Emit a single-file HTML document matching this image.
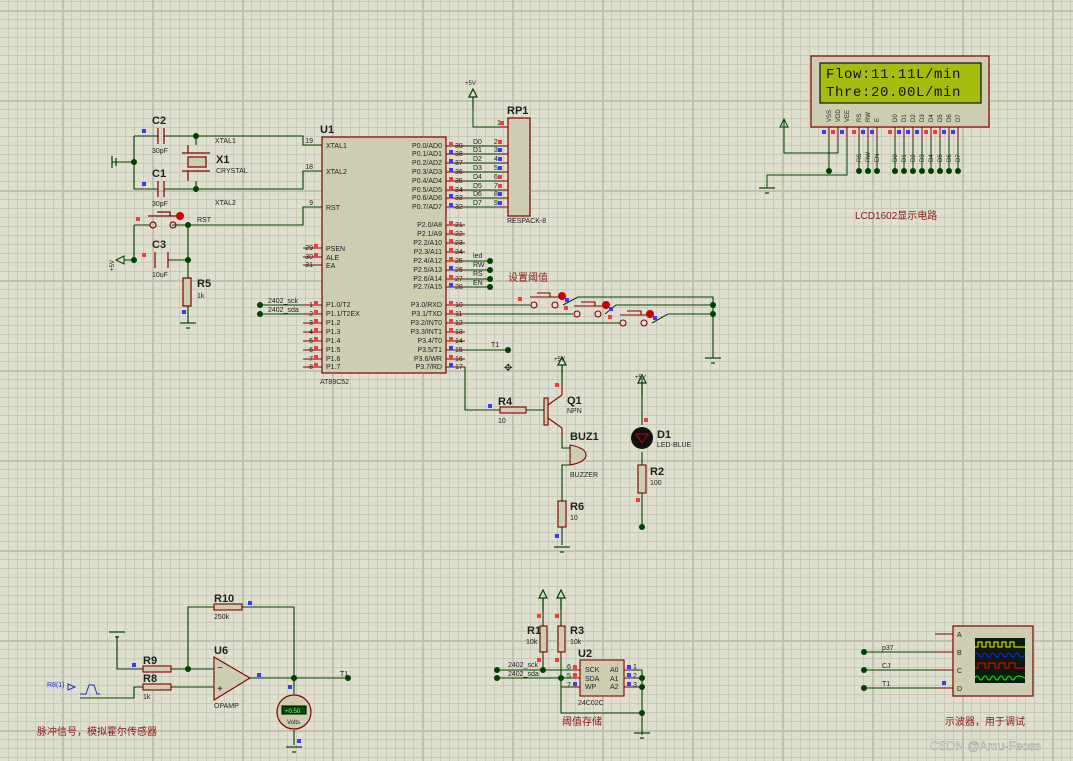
<!DOCTYPE html>
<html><head><meta charset="utf-8"><style>
html,body{margin:0;padding:0;}
body{width:1073px;height:761px;overflow:hidden;background-color:#dfdfd0;
background-image:
linear-gradient(#c2c2b2 2px,transparent 2px),
linear-gradient(90deg,#c2c2b2 2px,transparent 2px),
linear-gradient(#c9c9ba 1px,transparent 1px),
linear-gradient(90deg,#c9c9ba 1px,transparent 1px);
background-size:90px 90px,90px 90px,9px 9px,9px 9px;
background-position:0 10px,62px 0,0 1px,8px 0;}
svg{position:absolute;left:0;top:0;}
text{font-family:"Liberation Sans","Noto Sans CJK SC",sans-serif;fill:#222;}
.s{font-size:7px}
.r{font-size:11px;font-weight:bold}
.cn{font-size:10px;fill:#8b1a1a;font-family:"Liberation Sans","Noto Sans CJK SC",sans-serif}
.R{fill:#f03c3c}.B{fill:#3c3cf0}
</style></head><body>
<svg width="1073" height="761" viewBox="0 0 1073 761">
<defs>
<g id="nd"><circle r="3" fill="#004000"/></g>
<g id="gnd" stroke="#004000" stroke-width="1.2" fill="none"><line x1="-8" y1="0" x2="8" y2="0"/><line x1="-2" y1="5" x2="2" y2="5"/></g>
<g id="pwr" stroke="#004000" stroke-width="1.2" fill="none"><path d="M0,12 V0 M-4,0 L0,-8 L4,0 Z"/></g>
<rect id="r" width="4" height="4" class="R"/>
<rect id="b" width="4" height="4" class="B"/>
</defs>

<rect x="322" y="137" width="124" height="236" fill="#cdcdb2" stroke="#800000" stroke-width="1.2"/>
<g stroke="#800000" stroke-width="1">
<path d="M303,145H322M303,171H322M303,207H322M303,248H322M303,257H322M303,265H322"/>
<path d="M303,305H322M303,314H322M303,323H322M303,332H322M303,341H322M303,350H322M303,359H322M303,367H322"/>
<path d="M446,146H465M446,154H465M446,163H465M446,172H465M446,181H465M446,190H465M446,198H465M446,207H465"/>
<path d="M446,225H465M446,234H465M446,243H465M446,252H465M446,261H465M446,270H465M446,279H465M446,287H465"/>
<path d="M446,305H465M446,314H465M446,323H465M446,332H465M446,341H465M446,350H465M446,359H465M446,367H465"/>
</g>
<g>
<use href="#r" x="449" y="142"/><use href="#b" x="449" y="150"/><use href="#b" x="449" y="159"/><use href="#b" x="449" y="168"/><use href="#r" x="449" y="177"/><use href="#r" x="449" y="186"/><use href="#b" x="449" y="194"/><use href="#b" x="449" y="203"/>
<use href="#r" x="449" y="221"/><use href="#r" x="449" y="230"/><use href="#r" x="449" y="239"/><use href="#r" x="449" y="248"/><use href="#r" x="449" y="257"/><use href="#b" x="449" y="266"/><use href="#r" x="449" y="275"/><use href="#b" x="449" y="283"/>
<use href="#r" x="449" y="301"/><use href="#r" x="449" y="310"/><use href="#r" x="449" y="319"/><use href="#r" x="449" y="328"/><use href="#r" x="449" y="337"/><use href="#b" x="449" y="346"/><use href="#r" x="449" y="355"/><use href="#b" x="449" y="363"/>
<use href="#r" x="314" y="244"/><use href="#r" x="314" y="253"/>
<use href="#r" x="314" y="301"/><use href="#r" x="314" y="310"/><use href="#r" x="314" y="319"/><use href="#r" x="314" y="328"/><use href="#r" x="314" y="337"/><use href="#r" x="314" y="346"/><use href="#r" x="314" y="355"/><use href="#r" x="314" y="363"/>
<use href="#r" x="500" y="121"/><use href="#r" x="498" y="140"/><use href="#b" x="498" y="148"/><use href="#b" x="498" y="157"/><use href="#b" x="498" y="166"/><use href="#r" x="498" y="175"/><use href="#r" x="498" y="184"/><use href="#b" x="498" y="192"/><use href="#b" x="498" y="201"/>
<use href="#b" x="142" y="129"/><use href="#b" x="142" y="182"/><use href="#r" x="136" y="217"/><use href="#r" x="142" y="253"/><use href="#b" x="182" y="310"/>
</g>
<text x="320" y="133" class="r">U1</text>
<text x="320" y="384" class="s">AT89C52</text>
<g class="s">
<text x="326" y="148">XTAL1</text><text x="326" y="174">XTAL2</text><text x="326" y="210">RST</text>
<text x="326" y="251">PSEN</text><text x="326" y="260">ALE</text><text x="326" y="268">EA</text>
<text x="326" y="307">P1.0/T2</text><text x="326" y="316">P1.1/T2EX</text><text x="326" y="325">P1.2</text><text x="326" y="334">P1.3</text>
<text x="326" y="343">P1.4</text><text x="326" y="352">P1.5</text><text x="326" y="361">P1.6</text><text x="326" y="369">P1.7</text>
</g>
<g class="s" text-anchor="end">
<text x="442" y="148">P0.0/AD0</text><text x="442" y="156">P0.1/AD1</text><text x="442" y="165">P0.2/AD2</text><text x="442" y="174">P0.3/AD3</text>
<text x="442" y="183">P0.4/AD4</text><text x="442" y="192">P0.5/AD5</text><text x="442" y="200">P0.6/AD6</text><text x="442" y="209">P0.7/AD7</text>
<text x="442" y="227">P2.0/A8</text><text x="442" y="236">P2.1/A9</text><text x="442" y="245">P2.2/A10</text><text x="442" y="254">P2.3/A11</text>
<text x="442" y="263">P2.4/A12</text><text x="442" y="272">P2.5/A13</text><text x="442" y="281">P2.6/A14</text><text x="442" y="289">P2.7/A15</text>
<text x="442" y="307">P3.0/RXD</text><text x="442" y="316">P3.1/TXD</text><text x="442" y="325">P3.2/INT0</text><text x="442" y="334">P3.3/INT1</text>
<text x="442" y="343">P3.4/T0</text><text x="442" y="352">P3.5/T1</text><text x="442" y="361">P3.6/WR</text><text x="442" y="369">P3.7/RD</text>
<text x="313" y="143">19</text><text x="313" y="169">18</text><text x="313" y="205">9</text>
<text x="313" y="250">29</text><text x="313" y="259">30</text><text x="313" y="267">31</text>
<text x="313" y="307">1</text><text x="313" y="316">2</text><text x="313" y="325">3</text><text x="313" y="334">4</text><text x="313" y="343">5</text><text x="313" y="352">6</text><text x="313" y="361">7</text><text x="313" y="369">8</text>
</g>
<g class="s">
<text x="455" y="148">39</text><text x="455" y="156">38</text><text x="455" y="165">37</text><text x="455" y="174">36</text><text x="455" y="183">35</text><text x="455" y="192">34</text><text x="455" y="200">33</text><text x="455" y="209">32</text>
<text x="455" y="227">21</text><text x="455" y="236">22</text><text x="455" y="245">23</text><text x="455" y="254">24</text><text x="455" y="263">25</text><text x="455" y="272">26</text><text x="455" y="281">27</text><text x="455" y="289">28</text>
<text x="455" y="307">10</text><text x="455" y="316">11</text><text x="455" y="325">12</text><text x="455" y="334">13</text><text x="455" y="343">14</text><text x="455" y="352">15</text><text x="455" y="361">16</text><text x="455" y="369">17</text>
</g>

<rect x="508" y="118" width="22" height="98" fill="#cdcdb2" stroke="#800000" stroke-width="1.2"/>
<text x="507" y="114" class="r">RP1</text><text x="507" y="223" class="s">RESPACK-8</text>
<g stroke="#800000"><path d="M500,127H508M500,146H508M500,154H508M500,163H508M500,172H508M500,181H508M500,190H508M500,198H508M500,207H508"/></g>
<g stroke="#004000" fill="none"><path d="M473,97V127H500M465,146H500M465,154H500M465,163H500M465,172H500M465,181H500M465,190H500M465,198H500M465,207H500"/></g>
<use href="#pwr" x="473" y="97"/><text x="465" y="85" class="s" style="font-size:6px">+5V</text>
<g class="s"><text x="497" y="125">1</text><text x="494" y="144">2</text><text x="494" y="152">3</text><text x="494" y="161">4</text><text x="494" y="170">5</text><text x="494" y="179">6</text><text x="494" y="188">7</text><text x="494" y="196">8</text><text x="494" y="205">9</text>
<text x="473" y="144">D0</text><text x="473" y="152">D1</text><text x="473" y="161">D2</text><text x="473" y="170">D3</text><text x="473" y="179">D4</text><text x="473" y="188">D5</text><text x="473" y="196">D6</text><text x="473" y="205">D7</text></g>

<g stroke="#004000"><path d="M465,261H490M465,270H490M465,279H490M465,287H490"/></g>
<use href="#nd" x="490" y="261"/><use href="#nd" x="490" y="270"/><use href="#nd" x="490" y="279"/><use href="#nd" x="490" y="287"/>
<g class="s"><text x="473" y="258">led</text><text x="473" y="267">RW</text><text x="473" y="276">RS</text><text x="473" y="285">EN</text></g>

<g stroke="#004000" fill="none" stroke-width="1.1">
<path d="M134,136H158M164,136H303V145H322M134,136V189H158M164,189H303V171H322"/>
<path d="M112,162H134M196,136V145M196,181V189"/>
<path d="M134,225V260H124M134,225H150M172,225H303V207H322M188,225V260M168,260H188V278M188,306V323"/>
</g>
<g stroke="#004000" stroke-width="1.2"><path d="M112,156V168M116,158V166"/></g>
<use href="#nd" x="134" y="162"/><use href="#nd" x="196" y="136"/><use href="#nd" x="196" y="189"/>
<use href="#nd" x="188" y="225"/><use href="#nd" x="188" y="260"/><use href="#nd" x="134" y="260"/>
<g stroke="#800000" stroke-width="1.2" fill="none">
<path d="M158,128V144M164,128V144M158,181V197M164,181V197"/>
<path d="M182,153H210M182,171H210"/>
<rect x="188" y="157" width="18" height="10" fill="#cdcdb2"/>
<path d="M188,145V153M188,171V181"/>
<circle cx="153" cy="225" r="3"/><circle cx="173" cy="225" r="3"/><path d="M148,216H182M157,212H170V216"/>
<path d="M155,252V268M168,252V268"/>
<rect x="183" y="278" width="8" height="28" fill="#cdcdb2"/>
</g>
<circle cx="180" cy="216" r="4" fill="#c00"/>
<use href="#gnd" x="188" y="323"/>
<path d="M124,256L116,260L124,264Z" fill="none" stroke="#004000"/>
<text x="103" y="268" class="s" transform="rotate(-90 110 264)" style="font-size:6px">+5V</text>
<text x="152" y="124" class="r">C2</text><text x="152" y="153" class="s">30pF</text>
<text x="152" y="177" class="r">C1</text><text x="152" y="206" class="s">30pF</text>
<text x="216" y="163" class="r">X1</text><text x="216" y="173" class="s">CRYSTAL</text>
<text x="215" y="143" class="s">XTAL1</text><text x="215" y="205" class="s">XTAL2</text><text x="197" y="222" class="s">RST</text>
<text x="152" y="248" class="r">C3</text><text x="152" y="277" class="s">10uF</text>
<text x="197" y="287" class="r">R5</text><text x="197" y="298" class="s">1k</text>
<g stroke="#004000"><path d="M260,305H303M260,314H303"/></g>
<use href="#nd" x="260" y="305"/><use href="#nd" x="260" y="314"/>
<g class="s"><text x="268" y="303">2402_sck</text><text x="268" y="312">2402_sda</text></g>

<g stroke="#004000" fill="none" stroke-width="1.1">
<path d="M465,305H530M465,314H573M465,323H620M563,305L578,297H713V358M605,314L616,305H713M652,323L668,314H713"/>
<path d="M465,350H508M465,367V410H500M526,410H545"/>
</g>
<g stroke="#800000" fill="none" stroke-width="1.1">
<circle cx="534" cy="305" r="3"/><circle cx="555" cy="305" r="3"/><path d="M530,297H565M537,293H550V297"/>
<circle cx="577" cy="314" r="3"/><circle cx="598" cy="314" r="3"/><path d="M574,306H608M581,302H595V306"/>
<circle cx="623" cy="323" r="3"/><circle cx="644" cy="323" r="3"/><path d="M620,315H654M627,311H641V315"/>
</g>
<circle cx="562" cy="296" r="4" fill="#c00"/><circle cx="606" cy="305" r="4" fill="#c00"/><circle cx="650" cy="314" r="4" fill="#c00"/>
<use href="#r" x="518" y="297"/><use href="#r" x="564" y="306"/><use href="#r" x="608" y="315"/>
<use href="#b" x="565" y="298"/><use href="#b" x="609" y="307"/><use href="#b" x="653" y="316"/>
<use href="#nd" x="713" y="305"/><use href="#nd" x="713" y="314"/><use href="#gnd" x="713" y="358"/>
<text x="508" y="281" class="cn">设置阈值</text>
<use href="#nd" x="508" y="350"/><text x="491" y="347" class="s">T1</text>
<text x="504" y="371" fill="#2040c0" style="font-size:10px">✥</text>

<g stroke="#800000" fill="none" stroke-width="1.1">
<rect x="500" y="407" width="26" height="6" fill="#cdcdb2"/>
<rect x="544" y="398" width="4" height="27" fill="#cdcdb2"/>
<path d="M548,405L562,395V385M548,418L562,428V438"/>
<path d="M570,445V465M570,445Q586,448 586,455Q586,462 570,465Z" fill="#cdcdb2"/>
<rect x="558" y="501" width="8" height="26" fill="#cdcdb2"/>
<rect x="638" y="465" width="8" height="28" fill="#cdcdb2"/>
</g>
<g stroke="#004000" fill="none" stroke-width="1.1"><path d="M562,365V385M562,438V448H570M570,465H562V501M562,527V545M642,378V425M642,452V465M642,493V527"/></g>
<use href="#pwr" x="562" y="365"/><text x="554" y="361" class="s" style="font-size:6px">+5V</text>
<use href="#pwr" x="642" y="383"/><text x="635" y="379" class="s" style="font-size:6px">+5V</text>
<use href="#gnd" x="562" y="547"/><use href="#nd" x="642" y="527"/>
<use href="#r" x="555" y="383"/><use href="#b" x="488" y="404"/><use href="#b" x="555" y="534"/><use href="#r" x="644" y="418"/><use href="#r" x="636" y="498"/>
<circle cx="642" cy="438" r="11" fill="#111"/><path d="M636,434H648L642,443Z" fill="none" stroke="#c00"/>
<text x="498" y="405" class="r">R4</text><text x="498" y="423" class="s">10</text>
<text x="567" y="404" class="r">Q1</text><text x="567" y="413" class="s">NPN</text>
<text x="570" y="440" class="r">BUZ1</text><text x="570" y="477" class="s">BUZZER</text>
<text x="657" y="438" class="r">D1</text><text x="657" y="447" class="s">LED-BLUE</text>
<text x="650" y="475" class="r">R2</text><text x="650" y="485" class="s">100</text>
<text x="570" y="510" class="r">R6</text><text x="570" y="520" class="s">10</text>

<rect x="811" y="56" width="178" height="71" fill="#cdcdb2" stroke="#800000" stroke-width="1.2"/>
<rect x="820" y="63" width="161" height="40" fill="#a6bc10" stroke="#111" stroke-width="1.2"/>
<text x="826" y="78" style="font-family:'Liberation Mono',monospace;font-size:14px;fill:#111;letter-spacing:0.6px">Flow:11.11L/min</text>
<text x="826" y="96" style="font-family:'Liberation Mono',monospace;font-size:14px;fill:#111;letter-spacing:0.6px">Thre:20.00L/min</text>
<g stroke="#800000"><path d="M829,127V140M838,127V140M847,127V140M859,127V140M868,127V140M877,127V140M895,127V140M904,127V140M913,127V140M922,127V140M931,127V140M940,127V140M949,127V140M958,127V140"/></g>
<g stroke="#004000" fill="none"><path d="M829,140V171M838,140V153H784V120M847,140V175H767V188M859,140V171M868,140V171M877,140V171M895,140V171M904,140V171M913,140V171M922,140V171M931,140V171M940,140V171M949,140V171M958,140V171"/></g>
<g>
<use href="#b" x="822" y="130"/><use href="#r" x="831" y="130"/><use href="#b" x="840" y="130"/><use href="#r" x="852" y="130"/><use href="#b" x="861" y="130"/><use href="#b" x="870" y="130"/>
<use href="#r" x="888" y="130"/><use href="#b" x="897" y="130"/><use href="#b" x="906" y="130"/><use href="#b" x="915" y="130"/><use href="#r" x="924" y="130"/><use href="#r" x="933" y="130"/><use href="#b" x="942" y="130"/><use href="#b" x="951" y="130"/>
</g>
<path d="M780,127L784,119L788,127Z" fill="none" stroke="#004000"/>
<use href="#gnd" x="767" y="188"/>
<g><use href="#nd" x="829" y="171"/><use href="#nd" x="859" y="171"/><use href="#nd" x="868" y="171"/><use href="#nd" x="877" y="171"/><use href="#nd" x="895" y="171"/><use href="#nd" x="904" y="171"/><use href="#nd" x="913" y="171"/><use href="#nd" x="922" y="171"/><use href="#nd" x="931" y="171"/><use href="#nd" x="940" y="171"/><use href="#nd" x="949" y="171"/><use href="#nd" x="958" y="171"/></g>
<g class="s" style="font-size:6px">
<text transform="translate(831,122) rotate(-90)">VSS</text><text transform="translate(840,122) rotate(-90)">VDD</text><text transform="translate(849,122) rotate(-90)">VEE</text>
<text transform="translate(861,122) rotate(-90)">RS</text><text transform="translate(870,122) rotate(-90)">RW</text><text transform="translate(879,122) rotate(-90)">E</text>
<text transform="translate(897,122) rotate(-90)">D0</text><text transform="translate(906,122) rotate(-90)">D1</text><text transform="translate(915,122) rotate(-90)">D2</text><text transform="translate(924,122) rotate(-90)">D3</text><text transform="translate(933,122) rotate(-90)">D4</text><text transform="translate(942,122) rotate(-90)">D5</text><text transform="translate(951,122) rotate(-90)">D6</text><text transform="translate(960,122) rotate(-90)">D7</text>
<text transform="translate(861,162) rotate(-90)">RS</text><text transform="translate(870,162) rotate(-90)">RW</text><text transform="translate(879,162) rotate(-90)">EN</text>
<text transform="translate(897,162) rotate(-90)">D0</text><text transform="translate(906,162) rotate(-90)">D1</text><text transform="translate(915,162) rotate(-90)">D2</text><text transform="translate(924,162) rotate(-90)">D3</text><text transform="translate(933,162) rotate(-90)">D4</text><text transform="translate(942,162) rotate(-90)">D5</text><text transform="translate(951,162) rotate(-90)">D6</text><text transform="translate(960,162) rotate(-90)">D7</text>
</g>
<text x="855" y="219" class="cn">LCD1602显示电路</text>

<g stroke="#004000" fill="none" stroke-width="1.1">
<path d="M117,636V669H143M171,669H214M188,669V607H214M242,607H294V678M80,698H134V687H143M171,687H214M250,678H348M294,678V694M294,730V745"/>
</g>
<use href="#gnd" x="117" y="632"/>
<g stroke="#800000" fill="#cdcdb2" stroke-width="1.1">
<rect x="214" y="604" width="28" height="6"/><rect x="143" y="666" width="28" height="6"/><rect x="143" y="684" width="28" height="6"/>
<path d="M214,657L250,678L214,700Z"/>
</g>
<text x="217" y="671" style="font-size:10px">−</text><text x="217" y="692" style="font-size:10px">+</text>
<use href="#nd" x="188" y="669"/><use href="#nd" x="294" y="678"/><use href="#nd" x="348" y="678"/>
<use href="#b" x="248" y="601"/><use href="#b" x="132" y="663"/><use href="#b" x="257" y="673"/><use href="#b" x="288" y="685"/><use href="#b" x="297" y="739"/>
<circle cx="294" cy="712" r="17" fill="#cdcdb2" stroke="#800000" stroke-width="1.2"/>
<rect x="282" y="706" width="24" height="8" fill="#0a4a0a" stroke="#000"/>
<text x="285" y="713" style="font-size:6px;fill:#7f7">+0.50</text><text x="287" y="724" style="font-size:6px">Volts</text>
<use href="#gnd" x="294" y="747"/>
<g stroke="#2030c0" fill="none"><path d="M75,687L68,684V690Z M80,694H86L89,685H94L97,694H100"/></g>
<text x="47" y="687" style="font-size:7px;fill:#2030c0">R8(1)</text>
<text x="214" y="602" class="r">R10</text><text x="214" y="619" class="s">250k</text>
<text x="143" y="664" class="r">R9</text><text x="143" y="682" class="r">R8</text><text x="143" y="699" class="s">1k</text>
<text x="214" y="654" class="r">U6</text><text x="214" y="708" class="s">OPAMP</text>
<text x="340" y="676" class="s">T1</text>
<text x="37" y="735" class="cn">脉冲信号，模拟霍尔传感器</text>

<g stroke="#004000" fill="none" stroke-width="1.1">
<path d="M543,598V626M561,598V626M543,652V670M561,652V678M497,670H573M497,678H573M561,678V713H642M573,687H561M632,670H642V735M632,678H642M632,687H642"/>
</g>
<use href="#pwr" x="543" y="598"/><use href="#pwr" x="561" y="598"/>
<g stroke="#800000" fill="#cdcdb2" stroke-width="1.1">
<rect x="540" y="626" width="7" height="26"/><rect x="558" y="626" width="7" height="26"/>
<rect x="580" y="660" width="44" height="36"/>
<path d="M573,670H580M573,678H580M573,687H580M624,670H632M624,678H632M624,687H632" fill="none"/>
</g>
<use href="#r" x="537" y="614"/><use href="#r" x="555" y="614"/><use href="#r" x="537" y="658"/><use href="#r" x="555" y="658"/>
<use href="#r" x="573" y="665"/><use href="#r" x="573" y="673"/><use href="#b" x="573" y="682"/><use href="#b" x="627" y="665"/><use href="#b" x="627" y="673"/><use href="#b" x="627" y="682"/>
<use href="#nd" x="497" y="670"/><use href="#nd" x="497" y="678"/><use href="#nd" x="543" y="670"/><use href="#nd" x="561" y="678"/>
<use href="#nd" x="642" y="678"/><use href="#nd" x="642" y="687"/><use href="#nd" x="642" y="713"/><use href="#gnd" x="642" y="733"/>
<g class="s"><text x="508" y="667">2402_sck</text><text x="508" y="676">2402_sda</text>
<text x="585" y="672">SCK</text><text x="585" y="681">SDA</text><text x="585" y="689">WP</text>
<text x="610" y="672">A0</text><text x="610" y="681">A1</text><text x="610" y="689">A2</text>
<text x="567" y="669">6</text><text x="567" y="678">5</text><text x="567" y="687">7</text>
<text x="633" y="669">1</text><text x="633" y="678">2</text><text x="633" y="687">3</text>
<text x="578" y="705">24C02C</text>
<text x="526" y="644">10k</text><text x="570" y="644">10k</text></g>
<text x="527" y="634" class="r">R1</text><text x="570" y="634" class="r">R3</text><text x="578" y="657" class="r">U2</text>
<text x="562" y="725" class="cn">阈值存储</text>

<g stroke="#004000" fill="none"><path d="M864,652H935M864,670H935M864,688H935"/></g>
<g stroke="#800000"><path d="M935,634H953M935,652H953M935,670H953M935,688H953"/></g>
<use href="#nd" x="864" y="652"/><use href="#nd" x="864" y="670"/><use href="#nd" x="864" y="688"/>
<use href="#b" x="942" y="681"/>
<rect x="953" y="626" width="80" height="70" fill="#cdcdb2" stroke="#800000" stroke-width="1.2"/>
<rect x="975" y="638" width="50" height="45" fill="#0b1a0b"/>
<path d="M975,647H978V642H982V647H986V642H990V647H994V642H998V647H1002V642H1006V647H1010V642H1014V647H1025" stroke="#ff0" fill="none"/>
<path d="M975,655Q977,651 979,655T983,655T987,655T991,655T995,655T999,655T1003,655T1007,655T1011,655T1015,655T1019,655T1025,655" stroke="#22f" fill="none"/>
<path d="M975,668H978V663H985V668H989V663H995V668H999V663H1005V668H1009V663H1015V668H1025" stroke="#f00" fill="none"/>
<path d="M975,678Q977,674 979,678T983,678T987,678T991,678T995,678T999,678T1003,678T1007,678T1011,678T1015,678T1025,678" stroke="#0f0" fill="none"/>
<g class="s"><text x="957" y="637">A</text><text x="957" y="655">B</text><text x="957" y="673">C</text><text x="957" y="691">D</text>
<text x="882" y="650">p37</text><text x="882" y="668">CJ</text><text x="882" y="686">T1</text></g>
<text x="945" y="725" class="cn">示波器，用于调试</text>
<text x="930" y="750" style="font-size:12px;fill:#fff;stroke:#999;stroke-width:0.5">CSDN @Amu-Feoss</text>
</svg>
</body></html>
